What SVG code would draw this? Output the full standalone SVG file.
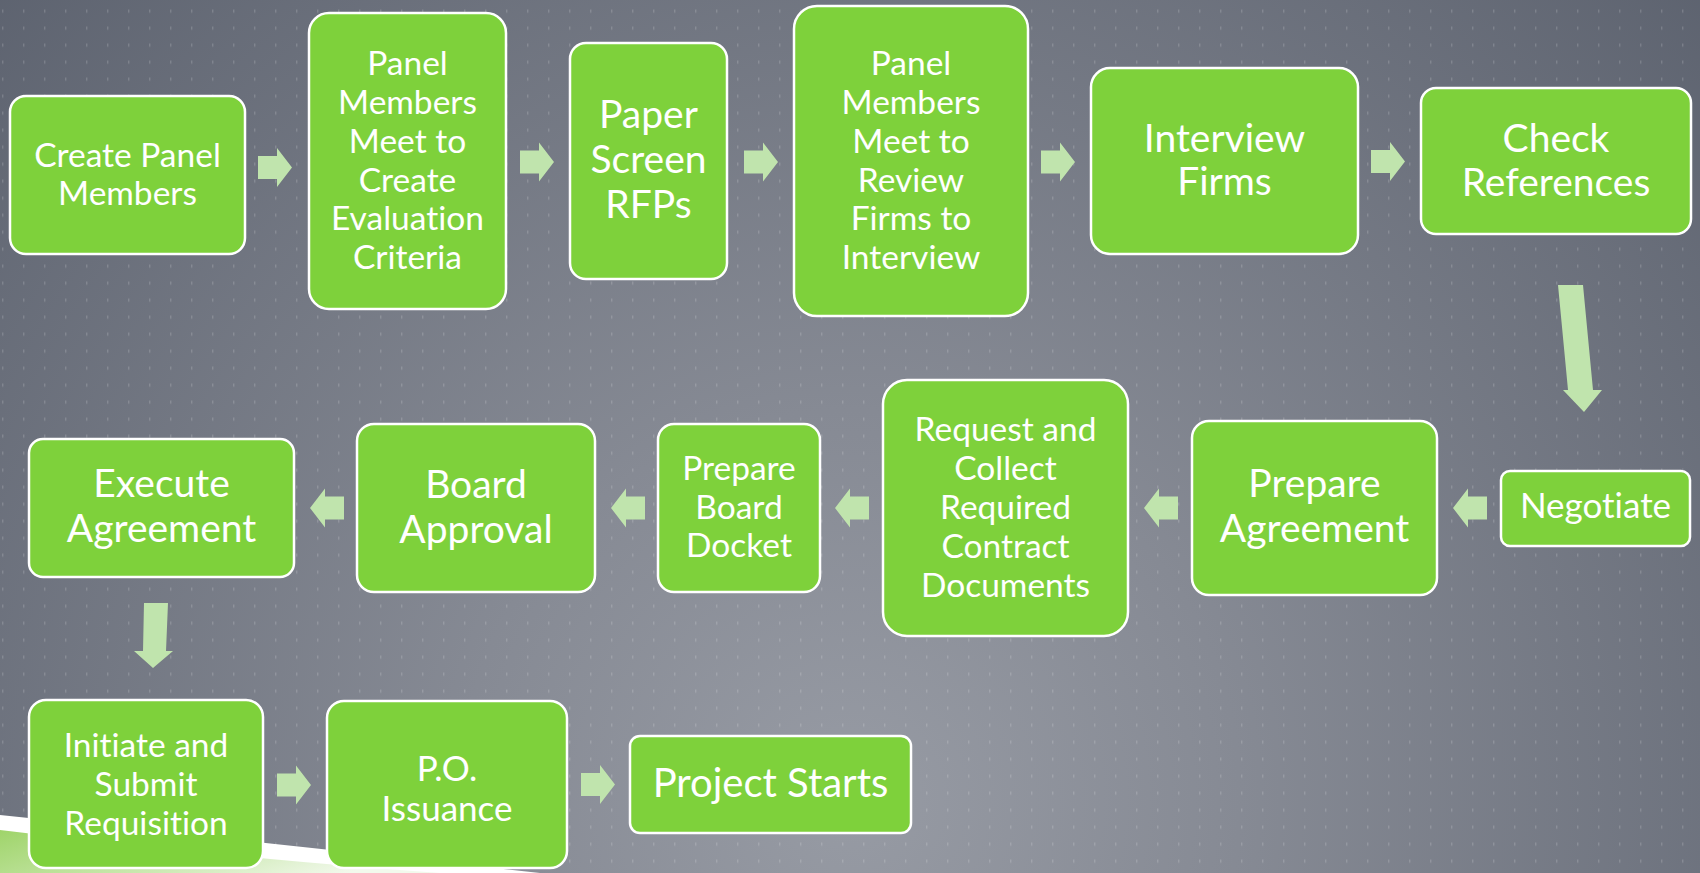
<svg xmlns="http://www.w3.org/2000/svg" xmlns:xlink="http://www.w3.org/1999/xlink" width="1700" height="873" viewBox="0 0 1700 873">
<defs>
<radialGradient id="bg" gradientUnits="userSpaceOnUse" cx="850" cy="800" r="1300">
<stop offset="0" stop-color="#979ba4"/>
<stop offset="0.3" stop-color="#868a94"/>
<stop offset="1" stop-color="#575d6a"/>
</radialGradient>
<pattern id="dots" patternUnits="userSpaceOnUse" x="2" y="9.5" width="21" height="17">
<rect x="0" y="0" width="1.4" height="3.2" fill="#ffffff" fill-opacity="0.16"/>
</pattern>
<linearGradient id="swoosh" x1="0" y1="0" x2="1" y2="0.3">
<stop offset="0" stop-color="#9fd46a"/>
<stop offset="0.6" stop-color="#cde9b4"/>
<stop offset="1" stop-color="#f2f9ec"/>
</linearGradient>
<path id="arr" d="M0,-11.5 H19 V-19.5 L34,0 L19,19.5 V11.5 H0 Z"/>
<style>
.node{fill:#7ed13b;stroke:#ffffff;stroke-width:2.5}
.t{font-family:Lato,"Open Sans","Liberation Sans",sans-serif;fill:#ffffff;text-anchor:middle;font-variant-ligatures:none;font-feature-settings:"liga" 0,"clig" 0}
.s{font-size:33.5px}
.l{font-size:39px}
.a{fill:#c0e4ad}
</style>
</defs>
<rect width="1700" height="873" fill="url(#bg)"/>
<rect width="1700" height="873" fill="url(#dots)"/>
<path d="M0,815 Q260,842 540,873 L0,873 Z" fill="#ffffff"/>
<path d="M0,830 Q230,858 440,873 L0,873 Z" fill="url(#swoosh)"/>
<g id="connectors" class="a">
<use xlink:href="#arr" href="#arr" transform="translate(258,167.5)"/>
<use xlink:href="#arr" href="#arr" transform="translate(520,162)"/>
<use xlink:href="#arr" href="#arr" transform="translate(744,162)"/>
<use xlink:href="#arr" href="#arr" transform="translate(1041,162)"/>
<use xlink:href="#arr" href="#arr" transform="translate(1371,161.5)"/>
<polygon points="1558,285 1583,285 1593,390 1602,390 1584,412 1563,390 1568,390"/>
<use xlink:href="#arr" href="#arr" transform="translate(1487,508) rotate(180)"/>
<use xlink:href="#arr" href="#arr" transform="translate(1178,508) rotate(180)"/>
<use xlink:href="#arr" href="#arr" transform="translate(869,508) rotate(180)"/>
<use xlink:href="#arr" href="#arr" transform="translate(645,508) rotate(180)"/>
<use xlink:href="#arr" href="#arr" transform="translate(344,508) rotate(180)"/>
<polygon points="144,603 168,603 166,651 173,651 153,668 134,651 143,651"/>
<use xlink:href="#arr" href="#arr" transform="translate(277,785)"/>
<use xlink:href="#arr" href="#arr" transform="translate(581,784.5)"/>
</g>
<g id="n1"><rect class="node" x="10" y="96" width="235" height="158" rx="16"/>
<text class="t s"><tspan x="127.5" y="167">Create Panel</tspan><tspan x="127.5" y="205">Members</tspan></text></g>
<g id="n2"><rect class="node" x="309" y="13" width="197" height="296" rx="20"/>
<text class="t s"><tspan x="407.5" y="75">Panel</tspan><tspan x="407.5" y="113.5">Members</tspan><tspan x="407.5" y="152.5">Meet to</tspan><tspan x="407.5" y="191.5">Create</tspan><tspan x="407.5" y="230">Evaluation</tspan><tspan x="407.5" y="268.5">Criteria</tspan></text></g>
<g id="n3"><rect class="node" x="570" y="43" width="157" height="236" rx="16"/>
<text class="t l"><tspan x="648.5" y="128">Paper</tspan><tspan x="648.5" y="173">Screen</tspan><tspan x="648.5" y="218">RFPs</tspan></text></g>
<g id="n4"><rect class="node" x="794" y="6" width="234" height="310" rx="23"/>
<text class="t s"><tspan x="911" y="75">Panel</tspan><tspan x="911" y="113.5">Members</tspan><tspan x="911" y="152.5">Meet to</tspan><tspan x="911" y="191.5">Review</tspan><tspan x="911" y="230">Firms to</tspan><tspan x="911" y="268.5">Interview</tspan></text></g>
<g id="n5"><rect class="node" x="1091" y="68" width="267" height="186" rx="19"/>
<text class="t l"><tspan x="1224.5" y="152">Interview</tspan><tspan x="1224.5" y="195">Firms</tspan></text></g>
<g id="n6"><rect class="node" x="1421" y="88" width="270" height="146" rx="15"/>
<text class="t l"><tspan x="1556" y="152">Check</tspan><tspan x="1556" y="196">References</tspan></text></g>
<g id="n7"><rect class="node" x="1501" y="471" width="189" height="75" rx="9"/>
<text class="t" style="font-size:35px" x="1595.5" y="518">Negotiate</text></g>
<g id="n8"><rect class="node" x="1192" y="421" width="245" height="174" rx="17"/>
<text class="t l"><tspan x="1314.5" y="497">Prepare</tspan><tspan x="1314.5" y="542">Agreement</tspan></text></g>
<g id="n9"><rect class="node" x="883" y="380" width="245" height="256" rx="24"/>
<text class="t s"><tspan x="1005.5" y="441">Request and</tspan><tspan x="1005.5" y="479.5">Collect</tspan><tspan x="1005.5" y="518.5">Required</tspan><tspan x="1005.5" y="558">Contract</tspan><tspan x="1005.5" y="597">Documents</tspan></text></g>
<g id="n10"><rect class="node" x="658" y="424" width="162" height="168" rx="16"/>
<text class="t s"><tspan x="739" y="480">Prepare</tspan><tspan x="739" y="518.5">Board</tspan><tspan x="739" y="557">Docket</tspan></text></g>
<g id="n11"><rect class="node" x="357" y="424" width="238" height="168" rx="17"/>
<text class="t l"><tspan x="476" y="498">Board</tspan><tspan x="476" y="543">Approval</tspan></text></g>
<g id="n12"><rect class="node" x="29" y="439" width="265" height="138" rx="14"/>
<text class="t l"><tspan x="161.5" y="497">Execute</tspan><tspan x="161.5" y="542">Agreement</tspan></text></g>
<g id="n13"><rect class="node" x="29" y="700" width="234" height="168" rx="17"/>
<text class="t s"><tspan x="146" y="757">Initiate and</tspan><tspan x="146" y="795.5">Submit</tspan><tspan x="146" y="835">Requisition</tspan></text></g>
<g id="n14"><rect class="node" x="327" y="701" width="240" height="167" rx="17"/>
<text class="t" style="font-size:35px"><tspan x="447" y="781">P.O.</tspan><tspan x="447" y="821">Issuance</tspan></text></g>
<g id="n15"><rect class="node" x="630" y="736" width="281" height="97" rx="10"/>
<text class="t" style="font-size:40px" x="770.5" y="797">Project Starts</text></g>
</svg>
